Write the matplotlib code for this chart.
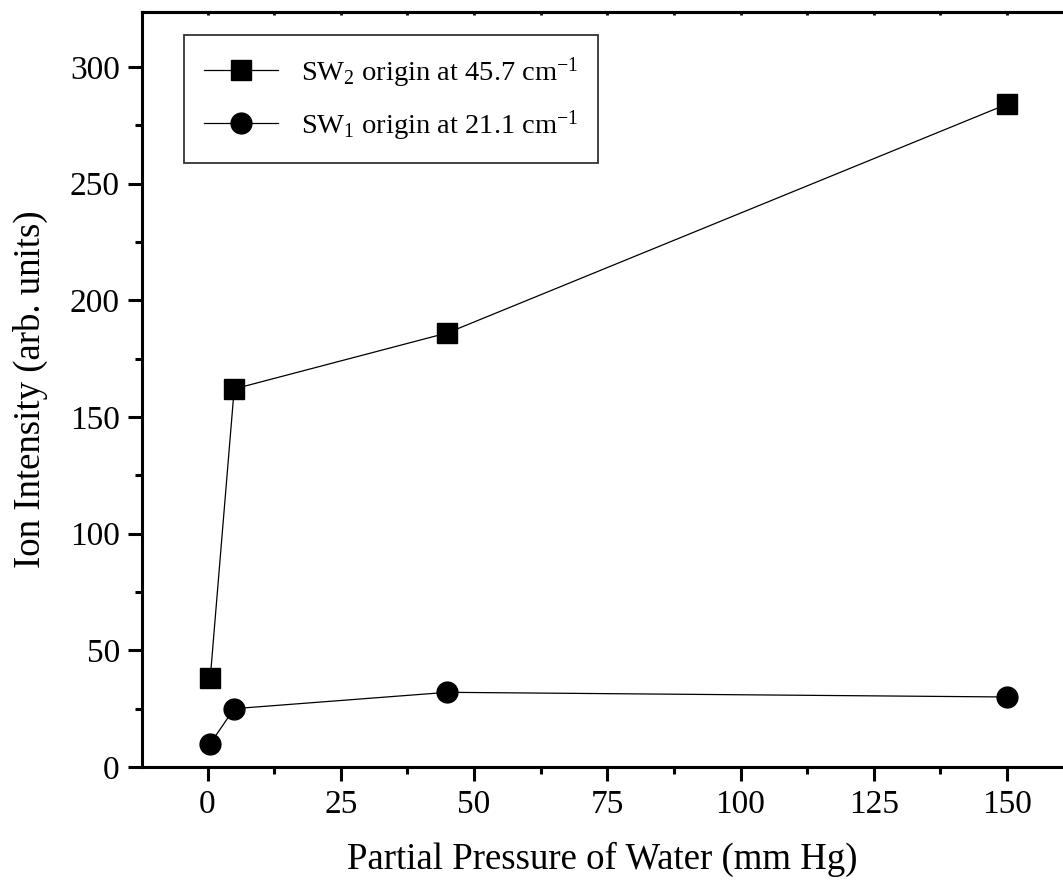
import matplotlib
matplotlib.use("Agg")
import matplotlib.pyplot as plt
from matplotlib.ticker import MultipleLocator

plt.rcParams["font.family"] = ["Liberation Serif", "DejaVu Serif"]
plt.rcParams["mathtext.fontset"] = "custom"
plt.rcParams["mathtext.rm"] = "Liberation Serif"
plt.rcParams["mathtext.it"] = "Liberation Serif:italic"

# data
pressure_sw2 = [0.5, 5, 45, 150]
intensity_sw2 = [38, 162, 186, 284]
pressure_sw1 = [0.5, 5, 45, 150]
intensity_sw1 = [10, 25, 32, 30]

label_sw2 = r"SW$_2$ origin at 45.7 cm$^{-1}$"
label_sw1 = r"SW$_1$ origin at 21.1 cm$^{-1}$"


def main():
    W, H = 1063, 886
    fig = plt.figure(figsize=(W / 100, H / 100), dpi=100)
    left, right, bottom, top = 142, 1063, 767, 12
    ax = fig.add_axes([left / W, 1 - bottom / H, (right - left) / W, (bottom - top) / H])

    ax.plot(pressure_sw2, intensity_sw2, color="black", lw=0.9, marker="s",
            markersize=14.5, label=label_sw2)
    ax.plot(pressure_sw1, intensity_sw1, color="black", lw=0.9, marker="o",
            markersize=15, label=label_sw1)

    ax.set_xlim(-12.3, 160.5)
    ax.set_ylim(0, 323.5)
    ax.xaxis.set_major_locator(MultipleLocator(25))
    ax.xaxis.set_minor_locator(MultipleLocator(12.5))
    ax.yaxis.set_major_locator(MultipleLocator(50))
    ax.yaxis.set_minor_locator(MultipleLocator(25))

    for s in ["left", "bottom", "top"]:
        ax.spines[s].set_linewidth(2.2)
    ax.spines["right"].set_visible(False)

    ax.tick_params(which="major", direction="out", length=10, width=2.2,
                   labelsize=24, pad=6)
    ax.tick_params(which="minor", direction="out", length=5, width=2.2)

    # tiny inward ticks along the top edge
    top_ax = ax.secondary_xaxis("top")
    top_ax.xaxis.set_major_locator(MultipleLocator(12.5))
    top_ax.tick_params(direction="in", length=2.5, width=2, labeltop=False)
    top_ax.spines["top"].set_linewidth(2.2)

    ax.set_xlabel("Partial Pressure of Water (mm Hg)", fontsize=26.5, labelpad=16)
    ax.set_ylabel("Ion Intensity (arb. units)", fontsize=26.5, labelpad=16)

    leg = ax.legend(loc="upper left", bbox_to_anchor=(28 / (right - left), 1 - 9 / (bottom - top)),
                    fontsize=20.5, frameon=True, fancybox=False, edgecolor="black",
                    handlelength=2.6, borderpad=0.7, labelspacing=0.65)
    leg.get_frame().set_linewidth(1.3)

    fig.savefig("out.png", dpi=100)


if __name__ == "__main__":
    main()
